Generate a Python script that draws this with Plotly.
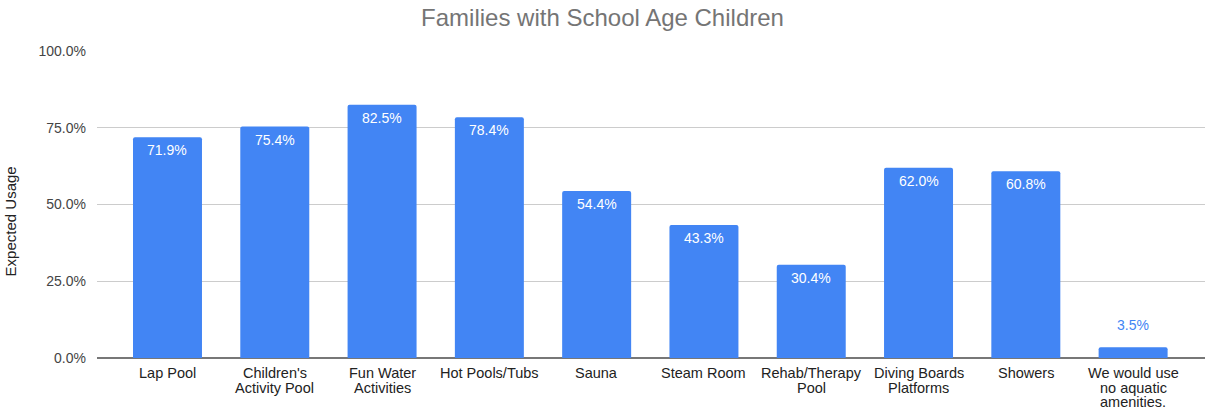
import plotly.graph_objects as go

categories = ["Lap Pool", "Children's<br>Activity Pool", "Fun Water<br>Activities", "Hot Pools/Tubs",
              "Sauna", "Steam Room", "Rehab/Therapy<br>Pool", "Diving Boards<br>Platforms",
              "Showers", "We would use<br>no aquatic<br>amenities."]
values = [0.719, 0.754, 0.825, 0.784, 0.544, 0.433, 0.304, 0.620, 0.608, 0.035]
inside = [True] * 9 + [False]

blue = "#4285F4"
font = "Arial, Liberation Sans, sans-serif"

fig = go.Figure()
fig.add_trace(go.Bar(
    x=list(range(len(categories))),
    y=values,
    width=0.643,
    marker=dict(color=blue, line=dict(width=0), cornerradius=2),
    hoverinfo="skip",
))

# value labels
for i, (v, ins) in enumerate(zip(values, inside)):
    fig.add_annotation(x=i, y=v, text=f"{v*100:.1f}%", showarrow=False,
                       yshift=-13 if ins else 22,
                       font=dict(color="white" if ins else blue, size=14, family=font))

# category labels (tight line spacing like the original)
for i, cat in enumerate(categories):
    for k, line in enumerate(cat.split("<br>")):
        fig.add_annotation(x=i, y=0, text=line, showarrow=False,
                           yshift=-(15 + 14.6 * k),
                           font=dict(size=14.5, color="#222222", family=font))

fig.add_annotation(xref="paper", yref="paper", x=0, y=0.445, xshift=-87,
                   xanchor="center", yanchor="middle",
                   text="Expected Usage", textangle=-90, showarrow=False,
                   font=dict(size=15, color="#222222", family=font))

fig.update_layout(
    width=1205, height=409,
    margin=dict(l=97, r=0, t=51, b=51, autoexpand=False),
    paper_bgcolor="white", plot_bgcolor="white",
    title=dict(text="Families with School Age Children", x=0.5, xanchor="center",
               xref="container", yref="container",
               y=0.958, yanchor="middle",
               font=dict(size=24, color="#757575", family=font)),
    showlegend=False,
    xaxis=dict(tickmode="array", tickvals=list(range(len(categories))),
               showticklabels=False,
               range=[-0.657, 9.67], showgrid=False, showline=False, automargin=False,
               ticks=""),
    yaxis=dict(range=[0, 1], tickvals=[0, 0.25, 0.5, 0.75, 1.0], tickformat=".1%",
               showgrid=True, gridcolor="#cccccc", gridwidth=1, automargin=False,
               zeroline=True, zerolinecolor="#777777", zerolinewidth=2,
               tickfont=dict(size=14, color="#444444", family=font),
               ticklabelstandoff=10),
)

fig.write_html("out.html", config={"displayModeBar": False},
               post_script="document.body.style.margin='0';")
